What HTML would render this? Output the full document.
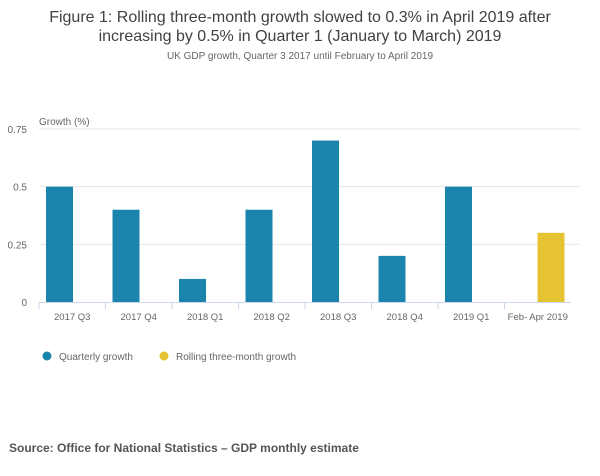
<!DOCTYPE html>
<html><head><meta charset="utf-8"><style>
body{margin:0;width:600px;height:471px;background:#fff;font-family:"Liberation Sans",sans-serif;overflow:hidden}
svg text{font-family:"Liberation Sans",sans-serif}
</style></head><body>
<svg width="600" height="471">
<text x="300" y="22" text-anchor="middle" font-size="16" fill="#414042">Figure 1: Rolling three-month growth slowed to 0.3% in April 2019 after</text>
<text x="300" y="41" text-anchor="middle" font-size="16" fill="#414042">increasing by 0.5% in Quarter 1 (January to March) 2019</text>
<text x="300" y="59" text-anchor="middle" font-size="10" fill="#666">UK GDP growth, Quarter 3 2017 until February to April 2019</text>
<text x="39" y="125" font-size="10" fill="#666">Growth (%)</text>
<g id="grid"></g><g id="bars"></g><g id="xaxis"></g>
<g>
<circle cx="47" cy="356" r="4.5" fill="#1b84ac"/>
<text x="59" y="360" font-size="10" fill="#666">Quarterly growth</text>
<circle cx="164" cy="356" r="4.5" fill="#e5c333"/>
<text x="176" y="360" font-size="10" fill="#666">Rolling three-month growth</text>
</g>
<text x="9" y="452" font-size="12" font-weight="bold" fill="#555">Source: Office for National Statistics – GDP monthly estimate</text>
</svg>
<script>
const categories=["2017 Q3","2017 Q4","2018 Q1","2018 Q2","2018 Q3","2018 Q4","2019 Q1","Feb- Apr 2019"];
const quarterly=[0.5,0.4,0.1,0.4,0.7,0.2,0.5,null];
const rolling=[null,null,null,null,null,null,null,0.3];
const yTicks=[0,0.25,0.5,0.75];
const yTickLabels=["0","0.25","0.5","0.75"];
const NS="http://www.w3.org/2000/svg";
const x0=39,cw=66.5,y0=302,ymax=0.75,ph=173,bw=27;
const y=v=>y0-v/ymax*ph;
const xc=i=>x0+i*cw;
function mk(t,a,p){const e=document.createElementNS(NS,t);for(const k in a)e.setAttribute(k,a[k]);p.appendChild(e);return e;}
const g=document.getElementById('grid'),b=document.getElementById('bars'),xa=document.getElementById('xaxis');
yTicks.forEach((t,i)=>{
 if(t>0){const l=mk('line',{x1:x0,x2:580,y1:y(t),y2:y(t),stroke:'#e6e6e6'},g);
 
 }
 const tx=mk('text',{x:27,y:y(t)+4,'font-size':10,fill:'#666','text-anchor':'end'},g);tx.textContent=yTickLabels[i];
 
 
});
categories.forEach((c,i)=>{
 if(quarterly[i]!=null){const r=mk('rect',{x:xc(i)+7,y:y(quarterly[i]),width:bw,height:y0-y(quarterly[i]),fill:'#1b84ac'},b);
 
 }
 if(rolling[i]!=null){const r=mk('rect',{x:xc(i)+33,y:y(rolling[i]),width:bw,height:y0-y(rolling[i]),fill:'#e5c333'},b);
 
 }
 const t=mk('text',{x:xc(i)+cw/2,y:320,'font-size':9.5,fill:'#666','text-anchor':'middle'},xa);t.textContent=c;
 
 
 const tk=mk('line',{x1:xc(i),x2:xc(i),y1:y0,y2:y0+7,stroke:'#ccd6eb'},xa);
 
 
});
const ax=mk('line',{x1:x0,x2:xc(8),y1:y0+0.5,y2:y0+0.5,stroke:'#ccd6eb'},xa);


</script>
</body></html>
